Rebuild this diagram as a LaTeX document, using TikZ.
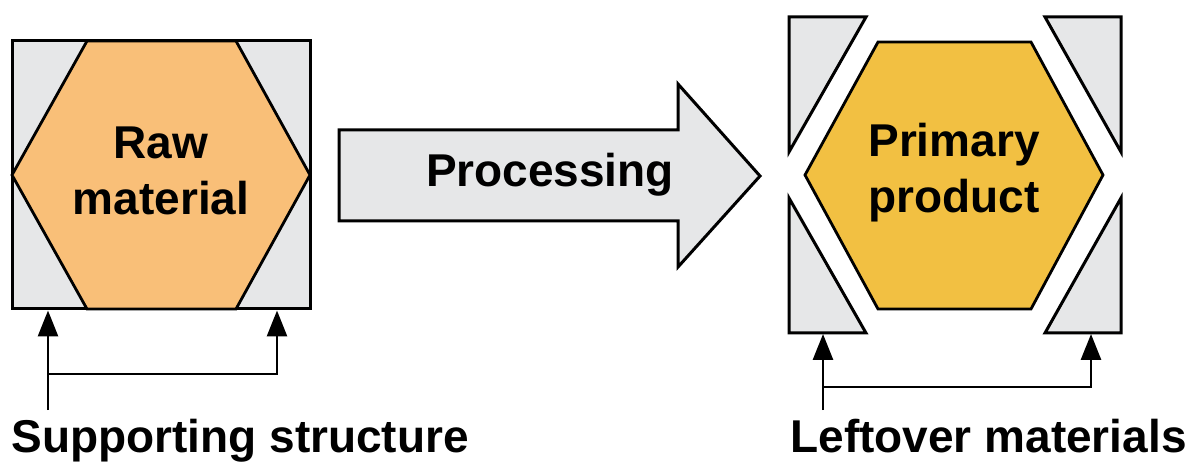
\documentclass[tikz,border=0pt]{standalone}
\usepackage{fontspec}
\setmainfont{Liberation Sans}
\usetikzlibrary{arrows.meta,positioning,calc}
\definecolor{panel}{HTML}{E6E7E8}
\definecolor{rawfill}{HTML}{F9BF78}
\definecolor{prodfill}{HTML}{F2C042}
\tikzset{
  piece/.style  ={draw,fill=panel,line width=1.5pt,line join=miter},
  hexa/.style   ={draw,line width=1.4pt,line join=miter},
  lbl/.style    ={font=\fontsize{23}{28}\selectfont\bfseries,align=center,inner sep=0pt},
  footlbl/.style={font=\fontsize{23}{28}\selectfont\bfseries,inner sep=0pt},
  ptr/.style    ={-{Triangle[length=13pt,width=10pt]},line width=1.4pt},
}

\begin{document}
\begin{tikzpicture}[x=0.5pt,y=-0.5pt]
\useasboundingbox (0,0) rectangle (1193,464);
\node[piece,minimum width=149pt,minimum height=134pt,inner sep=0pt] (sqL) at (161,175) {};
\draw[hexa,fill=rawfill] (12,175) -- (87,41) -- (236,41) -- (310,175) -- (236,309) -- (87,309) -- cycle;
\node[lbl] (raw) at (161,171) {Raw\\material};

\draw[piece] (339,130) -- (678,130) -- (678,84) -- (760,176) -- (678,267) -- (678,221) -- (339,221) -- cycle;
\node[lbl] (proc) at (550,175) {Processing};

\draw[piece] (789,17) -- (866,17) -- (789,152) -- cycle;
\draw[piece] (1045,17) -- (1121,17) -- (1121,152) -- cycle;
\draw[piece] (789,198) -- (866,333) -- (789,333) -- cycle;
\draw[piece] (1121,198) -- (1121,333) -- (1045,333) -- cycle;
\draw[hexa,fill=prodfill] (805,175) -- (878,42) -- (1031,42) -- (1103,175) -- (1031,309) -- (878,309) -- cycle;
\node[lbl] (prim) at (954,173) {Primary\\product};

\node[footlbl,anchor=base west] (supp) at (11,452) {Supporting structure};
\node[footlbl,anchor=base west] (left) at (790,452) {Leftover materials};

\coordinate (sA) at (48,410);
\coordinate (sB) at (277,374);
\draw[ptr] (sA) -- (sA |- sqL.south);
\draw[ptr] (sA |- sB) -| (sB |- sqL.south);

\coordinate (rbot) at (954,334);
\coordinate (lA) at (823,410);
\coordinate (lB) at (1091,387);
\draw[ptr] (lA) -- (lA |- rbot);
\draw[ptr] (lA |- lB) -| (lB |- rbot);
\end{tikzpicture}
\end{document}
